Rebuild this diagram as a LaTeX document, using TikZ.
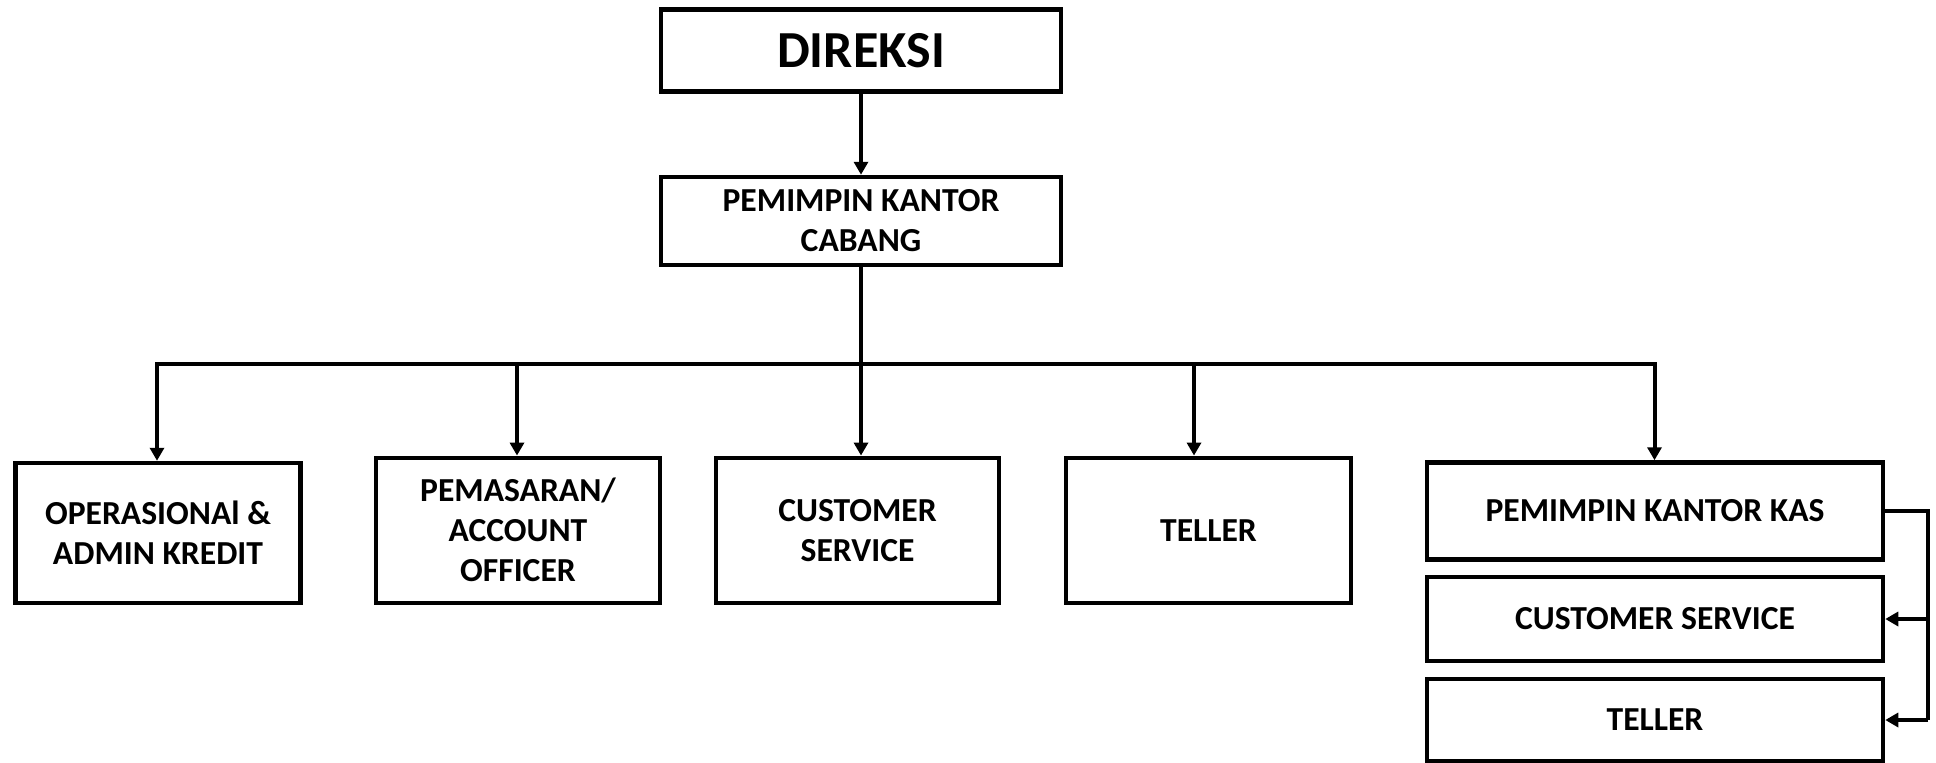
\documentclass[tikz,border=0pt]{standalone}
\usepackage{fontspec}
\setmainfont{Carlito}
\usetikzlibrary{arrows.meta}
\begin{document}
\begin{tikzpicture}[x=1pt,y=-1pt,
  box/.style={draw=black,line width=4.5pt,rectangle,inner sep=0pt,align=center,
    font=\fontsize{33.6}{40}\selectfont\bfseries},
  conn/.style={draw=black,line width=4pt,line join=miter},
  arr/.style={conn,-{Triangle[length=13pt,width=14pt]}}]
\useasboundingbox (0,0) rectangle (1936,763);
\fill[white] (0,0) rectangle (1936,763);
% top
\node[box,minimum width=400pt,minimum height=82pt,font=\fontsize{52}{62}\selectfont\bfseries] (dir) at (861,50.6) {DIREKSI};
\node[box,minimum width=400pt,minimum height=88pt] (pkc) at (861,221) {PEMIMPIN KANTOR\\CABANG};
% row
\node[box,minimum width=285pt,minimum height=140pt] (b1) at (158,533) {OPERASIONAl \&\\ADMIN KREDIT};
\node[box,minimum width=284pt,minimum height=145pt] (b2) at (518,530.3) {PEMASARAN/\\ACCOUNT\\OFFICER};
\node[box,minimum width=283pt,minimum height=145pt] (b3) at (857.5,530.3) {CUSTOMER\\SERVICE};
\node[box,minimum width=285pt,minimum height=145pt] (b4) at (1208.5,530.3) {TELLER};
\node[box,minimum width=456pt,minimum height=97pt] (pkk) at (1655,511) {PEMIMPIN KANTOR KAS};
\node[box,minimum width=456pt,minimum height=84pt] (cs2) at (1655,619) {CUSTOMER SERVICE};
\node[box,minimum width=456pt,minimum height=82pt] (t2) at (1655,720) {TELLER};
% bus coordinates
\coordinate (a1) at (157,364);
\coordinate (a2) at (517,364);
\coordinate (a3) at (861,364);
\coordinate (a4) at (1194,364);
\coordinate (a5) at (1654.5,364);
% connectors
\draw[arr] (dir.south) -- (pkc.north);
\draw[conn] (pkc.south) -- (a3);
\draw[arr] (a3) -- (a1) -- (a1 |- b1.north);
\draw[arr] (a3) -- (a5) -- (a5 |- pkk.north);
\draw[arr] (a2) -- (a2 |- b2.north);
\draw[arr] (a3) -- (a3 |- b3.north);
\draw[arr] (a4) -- (a4 |- b4.north);
% right bracket
\coordinate (rb) at (1928,511);
\draw[conn] (pkk.east) -- (rb) -- (rb |- t2.east);
\draw[arr] (rb |- cs2.east) -- (cs2.east);
\draw[arr] (rb |- t2.east) -- (t2.east);
\end{tikzpicture}
\end{document}
